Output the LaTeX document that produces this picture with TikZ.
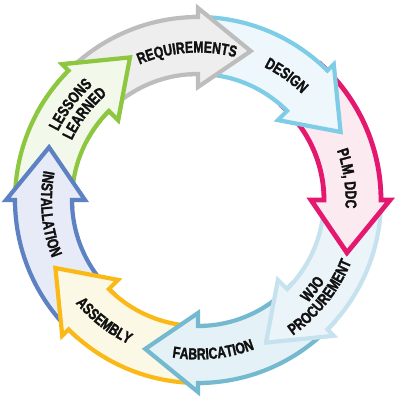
\documentclass[tikz,border=0pt]{standalone}
\usepackage{fontspec}
\newfontfamily\lblfont[FakeStretch=0.76,BoldFeatures={FakeBold=1.6}]{Liberation Sans}
\usetikzlibrary{decorations.text}
\newcommand\lblstyle{\lblfont\bfseries\fontsize{16pt}{18pt}\selectfont}
\definecolor{cGrayD}{HTML}{BDBDBD}\definecolor{cGrayF}{HTML}{EEEEEE}
\definecolor{cDesD}{HTML}{7ECCE6}\definecolor{cDesF}{HTML}{EEF8FC}
\definecolor{cPlmD}{HTML}{E5186F}\definecolor{cPlmF}{HTML}{FCEAF1}
\definecolor{cWjoD}{HTML}{C5E2EE}\definecolor{cWjoF}{HTML}{EBF5F9}
\definecolor{cFabD}{HTML}{74B9CF}\definecolor{cFabF}{HTML}{E4F1F7}
\definecolor{cAsmD}{HTML}{FBB917}\definecolor{cAsmF}{HTML}{FBF8E5}
\definecolor{cInsD}{HTML}{5D81C2}\definecolor{cInsF}{HTML}{E6EBF7}
\definecolor{cLesD}{HTML}{8DC63F}\definecolor{cLesF}{HTML}{F2F8EA}
\definecolor{lbltext}{HTML}{111111}
\def\Ro{183}\def\Ri{126}\def\Rbo{192}\def\Rbi{113}\def\Rt{158}
\newcommand\ringarrow[2]{%
  \pgfmathsetmacro\ta{#2-19.5}%
  \pgfmathsetmacro\sa{#2+48}%
  \draw[#1] (\sa:\Ro pt) arc[start angle=\sa, end angle=#2, radius=\Ro pt]
    -- (#2:\Rbo pt) -- (\ta:\Rt pt) -- (#2:\Rbi pt) -- (#2:\Ri pt)
    arc[start angle=#2, end angle=\sa, radius=\Ri pt] -- cycle;}
\newcommand\cwlabel[3]{%
  \pgfmathsetmacro\la{#1+40}\pgfmathsetmacro\lb{#1-40}%
  \path[decorate,decoration={text along path,text align=center,text color=lbltext,
     text={|\lblstyle|#3}}] (\la:#2pt) arc[start angle=\la,end angle=\lb,radius=#2pt];}
\newcommand\ccwlabel[3]{%
  \pgfmathsetmacro\la{#1-40}\pgfmathsetmacro\lb{#1+40}%
  \path[decorate,decoration={text along path,text align=center,text color=lbltext,
     text={|\lblstyle|#3}}] (\la:#2pt) arc[start angle=\la,end angle=\lb,radius=#2pt];}
\tikzset{
  arr/.style={line width=4.2pt, line join=miter, miter limit=10},
  grayarr/.style={arr, draw=cGrayD, fill=cGrayF},
  desarr/.style={arr, draw=cDesD, fill=cDesF},
  plmarr/.style={arr, draw=cPlmD, fill=cPlmF, line width=4.8pt},
  wjoarr/.style={arr, draw=cWjoD, fill=cWjoF},
  fabarr/.style={arr, draw=cFabD, fill=cFabF},
  asmarr/.style={arr, draw=cAsmD, fill=cAsmF},
  insarr/.style={arr, draw=cInsD, fill=cInsF},
  lesarr/.style={arr, draw=cLesD, fill=cLesF}
}
\begin{document}
\begin{tikzpicture}
\fill[white] (0,0) rectangle (400pt,400pt);
\useasboundingbox (0,0) rectangle (400pt,400pt);
\begin{scope}[shift={(198pt,200pt)}]
  \ringarrow{lesarr}{135}
  \ringarrow{insarr}{180}
  \ringarrow{asmarr}{-135}
  \ringarrow{fabarr}{-90}
  \ringarrow{wjoarr}{-45}
  \ringarrow{plmarr}{0}
  \ringarrow{desarr}{45}
  \ringarrow{grayarr}{90}
  \begin{scope}
    \clip (0,0) -- (152:260pt) arc[start angle=152, end angle=100, radius=260pt] -- cycle;
    \ringarrow{lesarr}{135}
  \end{scope}
  \cwlabel{94.3}{147.5}{REQUIREMENTS}
  \cwlabel{54.6}{148.5}{DESIGN}
  \cwlabel{8.2}{147.5}{PLM, DDC}
  \ccwlabel{-37.9}{150.5}{WJO}
  \ccwlabel{-38.5}{165.5}{PROCUREMENT}
  \ccwlabel{-84.3}{159.5}{FABRICATION}
  \ccwlabel{-127.8}{160}{ASSEMBLY}
  \ccwlabel{185.4}{157}{INSTALLATION}
  \cwlabel{143.2}{155.8}{LESSONS}
  \cwlabel{142.7}{139.5}{LEARNED}
\end{scope}
\end{tikzpicture}
\end{document}
